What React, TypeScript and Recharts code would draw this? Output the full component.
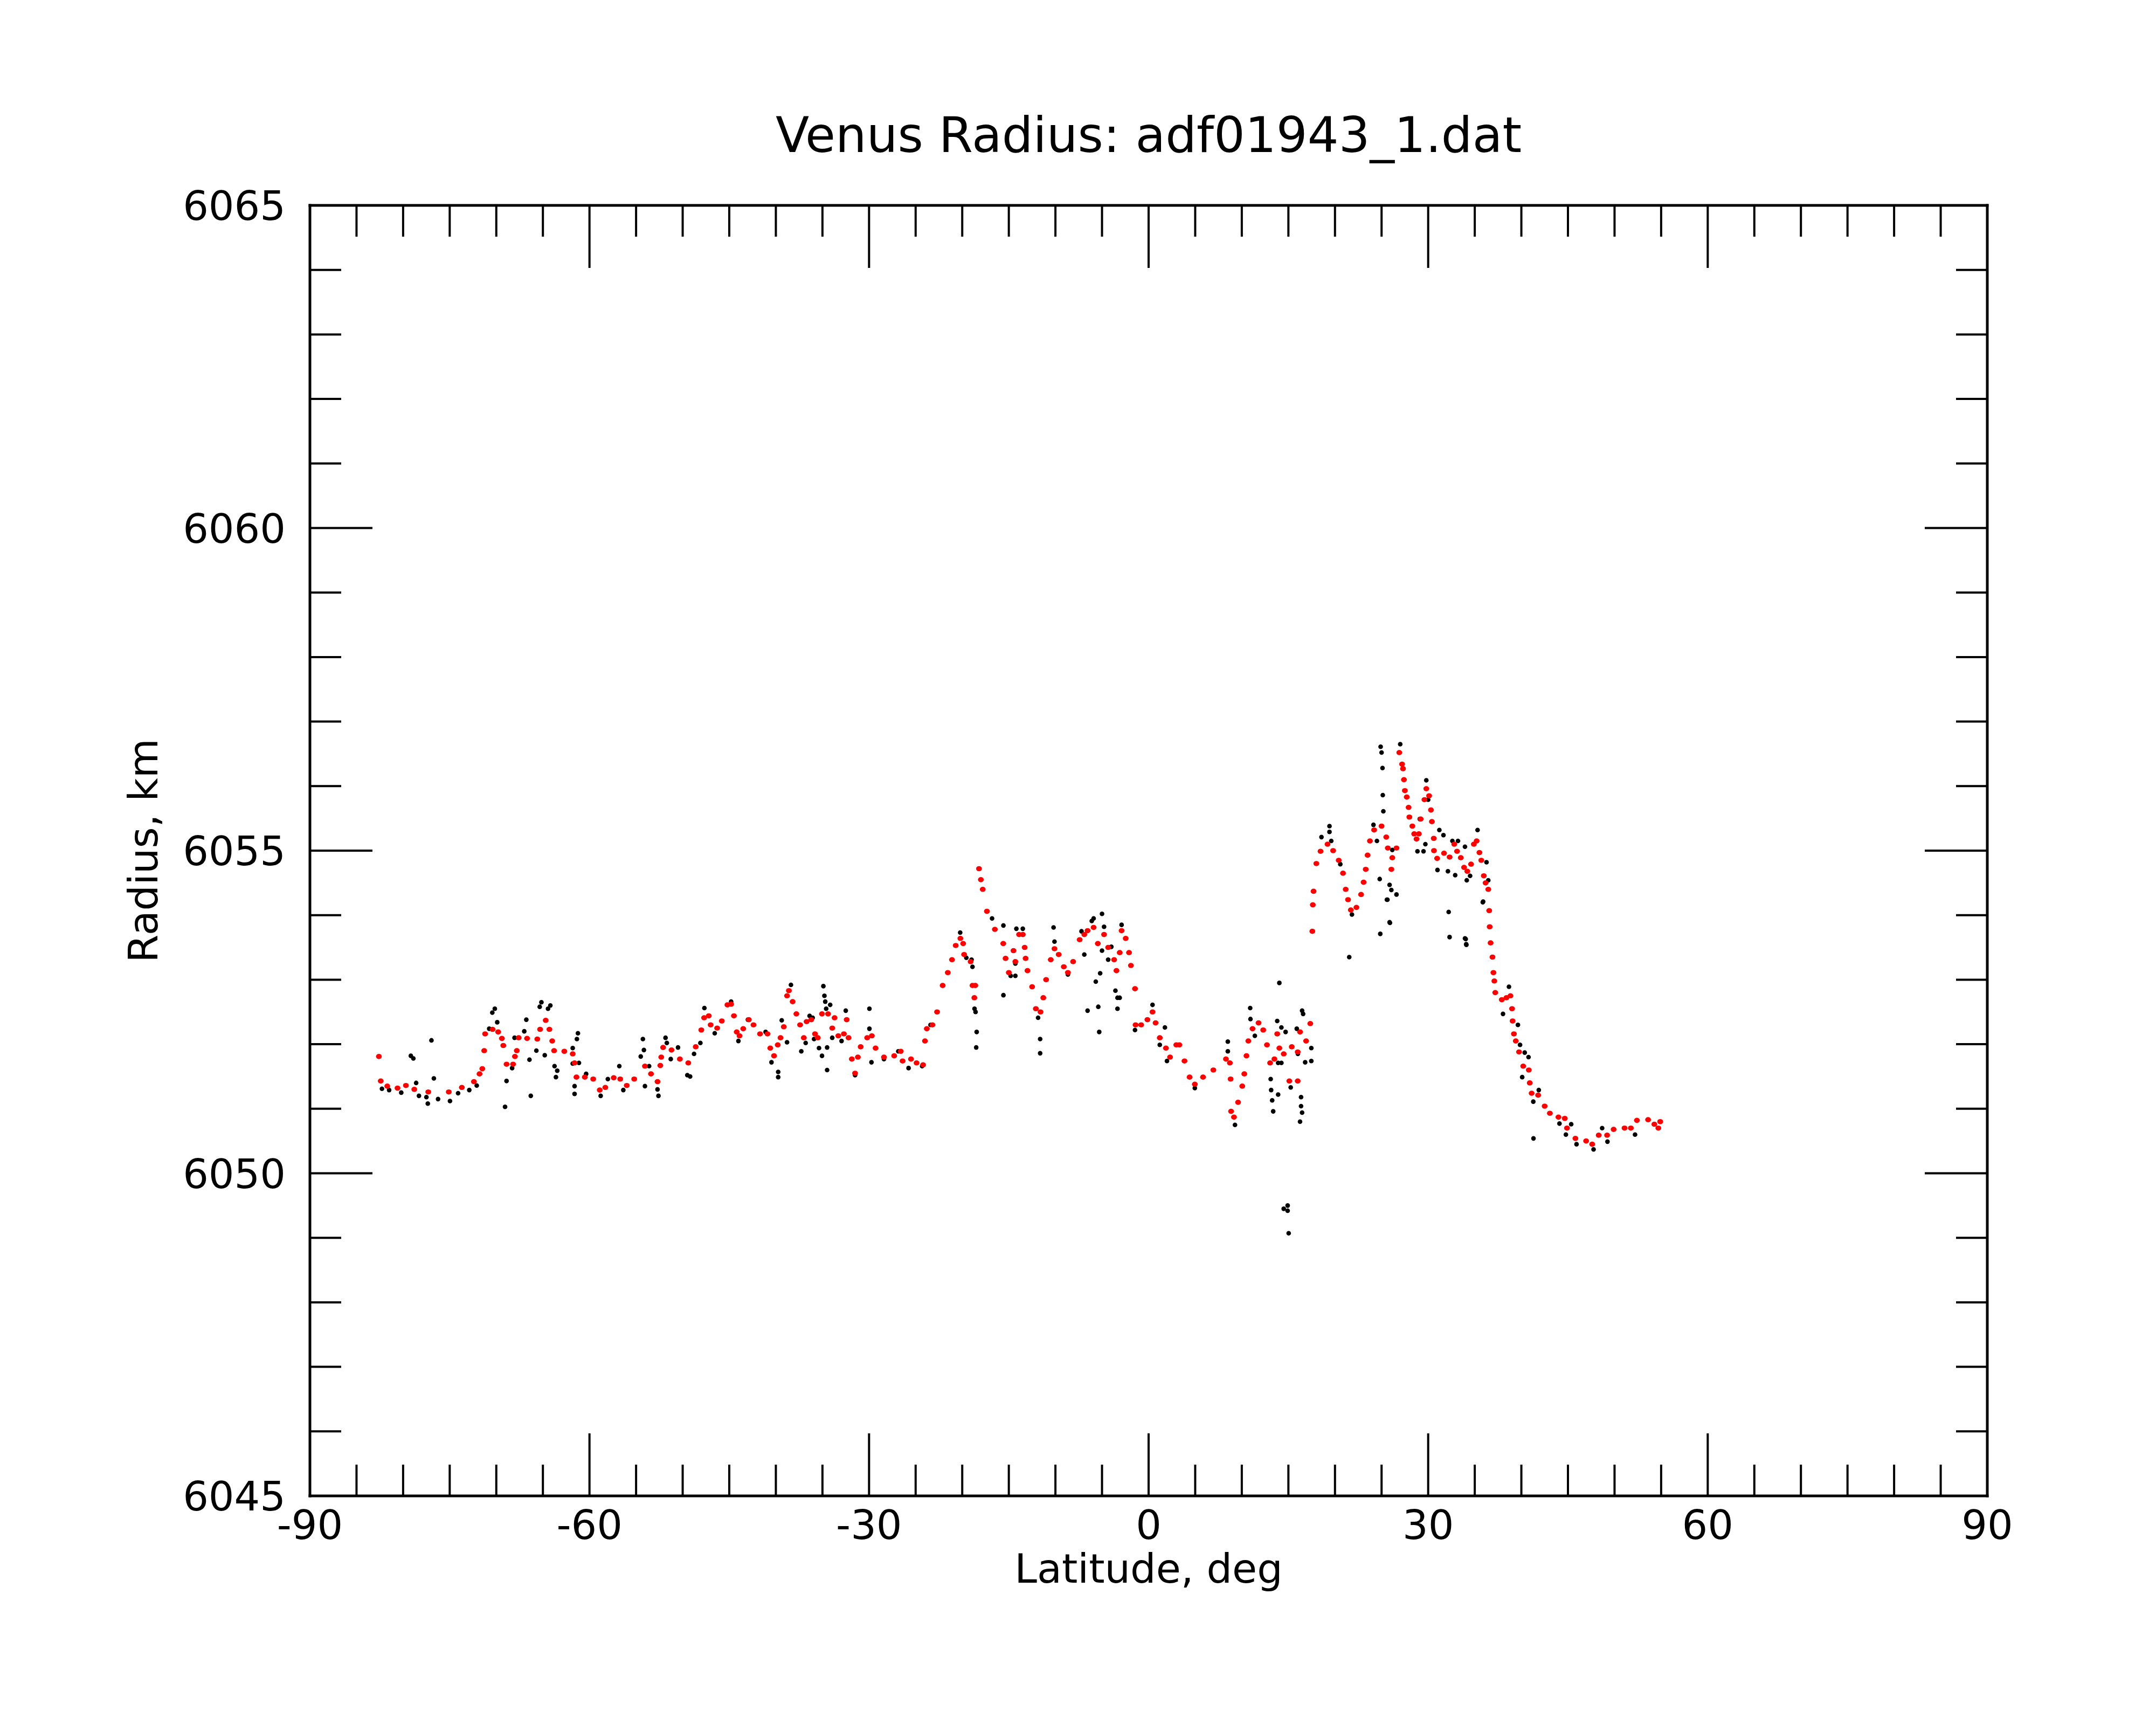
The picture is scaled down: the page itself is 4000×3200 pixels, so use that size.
import { Scatter, ScatterChart, XAxis, YAxis } from "recharts";

const FONT = "DejaVu Sans, Verdana, sans-serif";

// smoothed profile (red)
const fitLat = [
  -82.6, -82.4, -81.7, -80.6, -79.7, -78.8, -77.3, -75.1, -73.7, -72.4, -71.8, -71.5, -71.3, -71.2,
  -70.4, -69.8, -69.4, -69.25, -68.9, -68.2, -68.0, -67.8, -67.6, -66.7, -65.6, -65.3, -64.7, -64.3,
  -64.0, -63.8, -62.7, -61.8, -61.6, -61.4, -60.5, -59.6, -58.9, -58.3, -57.4, -56.7, -56.0, -55.2,
  -54.05, -53.4, -52.7, -52.4, -52.3, -52.1, -51.2, -50.3, -49.4, -48.6, -48.0, -47.7, -47.2, -47.0,
  -46.3, -45.8, -45.2, -44.8, -44.5, -44.2, -43.9, -43.5, -42.9, -42.4, -41.7, -40.9, -40.6, -40.2,
  -39.8, -39.5, -39.15, -38.8, -38.6, -38.2, -37.8, -37.4, -37.0, -36.7, -36.2, -35.8, -35.5, -35.05,
  -34.4, -33.95, -33.7, -33.3, -32.7, -32.4, -32.2, -31.85, -31.5, -31.2, -30.9, -30.2, -29.7, -29.3,
  -28.4, -27.3, -26.6, -26.4, -25.5, -24.9, -24.2, -24.0, -23.8, -23.2, -22.7, -22.1, -21.55, -21.1,
  -20.7, -20.2, -19.9, -19.8, -19.1, -18.9, -18.7, -18.6, -18.2, -18.0, -17.8, -17.35, -16.5, -15.6,
  -15.35, -15.0, -14.5, -14.3, -13.9, -13.5, -13.3, -13.2, -13.0, -12.5, -12.1, -11.6, -11.3, -11.0,
  -10.5, -10.1, -9.65, -9.1, -8.66, -8.1, -7.4, -6.9, -6.55, -5.9, -5.45, -4.78, -4.34, -3.7, -3.45,
  -3.1, -2.9, -2.46, -2.1, -1.9, -1.46, -1.4, -0.8, -0.13, 0.42, 0.75, 1.2, 1.86, 2.3, 2.97, 3.3, 3.85,
  4.4, 4.96, 5.84, 6.95, 8.3, 8.72, 8.8, 8.85, 9.16, 9.6, 10.05, 10.27, 10.5, 10.7, 11.15, 11.8, 12.3,
  12.7, 13.04, 13.5, 13.8, 14.03, 14.5, 15.1, 15.36, 16.0, 16.0, 16.25, 16.9, 17.35, 17.57, 17.62, 17.7,
  18.0, 18.45, 19.2, 19.8, 20.4, 20.86, 21.15, 21.4, 21.7, 22.3, 22.8, 23.07, 23.3, 23.5, 23.75, 24.2,
  25.0, 25.5, 25.67, 26.05, 26.15, 26.6, 26.9, 27.2, 27.3, 27.4, 27.5, 27.7, 27.9, 27.98, 28.3, 28.5,
  28.75, 29.0, 29.2, 29.6, 29.8, 30.1, 30.3, 30.4, 30.6, 30.62, 30.96, 31.7, 32.3, 32.8, 33.1, 33.5,
  33.85, 34.2, 34.6, 34.9, 35.2, 35.5, 35.7, 35.97, 36.16, 36.45, 36.55, 36.6, 36.7, 36.9, 37.0, 37.1,
  37.2, 37.9, 38.4, 38.83, 39.0, 39.06, 39.2, 39.4, 39.75, 40.2, 40.8, 40.9, 41.1, 41.8, 42.5, 43.06,
  43.98, 44.66, 44.9, 45.8, 46.95, 47.6, 48.3, 49.2, 49.9, 51.07, 51.75, 52.4, 53.6, 54.27, 54.7, 54.9,
];
const fitRadius = [
  6051.81, 6051.43, 6051.35, 6051.32, 6051.36, 6051.3, 6051.26, 6051.26, 6051.33, 6051.42, 6051.54,
  6051.62, 6051.9, 6052.16, 6052.23, 6052.19, 6052.09, 6051.98, 6051.69, 6051.69, 6051.81, 6051.9,
  6052.1, 6052.09, 6052.08, 6052.23, 6052.37, 6052.23, 6052.05, 6051.9, 6051.89, 6051.85, 6051.71,
  6051.49, 6051.49, 6051.46, 6051.29, 6051.33, 6051.48, 6051.46, 6051.36, 6051.46, 6051.66, 6051.54,
  6051.42, 6051.67, 6051.8, 6051.95, 6051.91, 6051.77, 6051.71, 6051.96, 6052.22, 6052.41, 6052.44,
  6052.3, 6052.25, 6052.36, 6052.61, 6052.62, 6052.44, 6052.19, 6052.13, 6052.24, 6052.38, 6052.3,
  6052.16, 6052.16, 6051.94, 6051.82, 6051.99, 6052.1, 6052.27, 6052.75, 6052.83, 6052.66, 6052.47,
  6052.3, 6052.1, 6052.35, 6052.38, 6052.16, 6052.1, 6052.47, 6052.47, 6052.25, 6052.41, 6052.13,
  6052.16, 6052.38, 6052.1, 6051.77, 6051.55, 6051.8, 6051.96, 6052.1, 6052.13, 6051.94, 6051.8,
  6051.82, 6051.89, 6051.74, 6051.77, 6051.71, 6051.68, 6052.05, 6052.24, 6052.3, 6052.5, 6052.91,
  6053.11, 6053.31, 6053.53, 6053.64, 6053.56, 6053.39, 6053.28, 6052.91, 6052.72, 6052.91, 6054.72,
  6054.55, 6054.4, 6054.06, 6053.78, 6053.56, 6053.33, 6053.11, 6053.45, 6053.28, 6053.7, 6053.7,
  6053.5, 6053.33, 6053.14, 6052.89, 6052.55, 6052.5, 6052.72, 6053.0, 6053.31, 6053.48, 6053.39,
  6053.2, 6053.11, 6053.28, 6053.62, 6053.7, 6053.76, 6053.81, 6053.56, 6053.7, 6053.5, 6053.31,
  6053.14, 6053.42, 6053.76, 6053.64, 6053.42, 6053.22, 6052.86, 6052.3, 6052.3, 6052.38, 6052.5,
  6052.33, 6052.1, 6051.94, 6051.8, 6051.99, 6051.99, 6051.74, 6051.49, 6051.38, 6051.49, 6051.6,
  6051.77, 6051.71, 6051.46, 6050.96, 6050.87, 6051.1, 6051.35, 6051.54, 6051.82, 6052.05, 6052.24,
  6052.33, 6052.22, 6051.99, 6051.71, 6051.77, 6052.16, 6051.94, 6051.85, 6051.43, 6051.96, 6051.88,
  6051.43, 6052.19, 6052.05, 6052.32, 6053.75, 6054.16, 6054.37, 6054.8, 6054.99, 6055.1, 6055.0,
  6054.85, 6054.65, 6054.4, 6054.24, 6054.08, 6054.12, 6054.32, 6054.51, 6054.71, 6054.93, 6055.15,
  6055.32, 6055.38, 6055.21, 6055.04, 6054.71, 6054.89, 6055.04, 6056.52, 6056.34, 6056.27, 6056.1,
  6055.93, 6055.83, 6055.67, 6055.52, 6055.38, 6055.26, 6055.18, 6055.26, 6055.49, 6055.79, 6055.96,
  6055.85, 6055.63, 6055.45, 6055.19, 6055.0, 6054.88, 6054.96, 6054.9, 6055.1, 6054.99, 6054.89,
  6054.74, 6054.68, 6054.79, 6055.1, 6055.15, 6054.97, 6054.85, 6054.61, 6054.5, 6054.4, 6054.07,
  6053.82, 6053.57, 6053.35, 6053.11, 6052.98, 6052.8, 6052.69, 6052.72, 6052.75, 6052.55, 6052.36,
  6052.16, 6052.05, 6051.88, 6051.66, 6051.6, 6051.4, 6051.24, 6051.21, 6051.04, 6050.93, 6050.87,
  6050.85, 6050.7, 6050.54, 6050.5, 6050.45, 6050.59, 6050.59, 6050.68, 6050.7, 6050.7, 6050.82,
  6050.83, 6050.76, 6050.7, 6050.8,
];

// raw measurements (black)
const rawLat = [
  -82.27, -81.5, -80.2, -79.17, -78.9, -78.6, -78.3, -77.5, -77.35, -76.96, -76.7, -76.25, -74.97,
  -74.1, -72.9, -72.1, -70.76, -70.43, -70.16, -69.9, -69.06, -68.9, -68.3, -68.04, -67.77, -67.0,
  -66.78, -66.44, -66.3, -65.7, -65.34, -65.16, -64.45, -64.2, -64.8, -63.75, -63.6, -63.46, -61.8,
  -61.8, -61.6, -61.6, -61.35, -61.24, -61.13, -60.36, -58.8, -58.03, -56.8, -56.37, -54.5, -54.27,
  -54.16, -54.05, -53.6, -52.7, -52.6, -51.84, -51.7, -51.28, -50.5, -49.5, -49.2, -48.78, -48.1,
  -47.67, -46.56, -44.8, -44.02, -43.0, -41.1, -40.47, -39.75, -39.75, -39.37, -38.8, -38.38, -37.27,
  -36.8, -36.38, -36.05, -35.9, -35.37, -35.05, -34.9, -34.79, -34.7, -34.6, -34.5, -34.5, -34.17,
  -33.95, -32.95, -32.5, -31.5, -29.96, -29.96, -29.74, -28.4, -26.86, -25.76, -24.3, -23.4, -20.22,
  -19.56, -19.0, -18.9, -18.68, -18.57, -18.45, -18.5, -16.8, -15.58, -15.58, -14.8, -14.19, -13.5,
  -14.3, -14.3, -11.86, -11.64, -11.64, -10.2, -10.1, -8.66, -7.2, -6.9, -6.55, -6.1, -5.9, -5.67,
  -5.3, -5.4, -5.2, -5.0, -4.78, -5.0, -4.34, -4.0, -3.56, -3.34, -3.34, -3.1, -2.9, -1.46, 0.42, 1.75,
  1.2, 1.97, 4.96, 8.5, 8.5, 9.27, 10.9, 10.93, 11.4, 13.1, 13.15, 13.26, 13.37, 14.03, 13.8, 14.25,
  14.7, 13.9, 14.25, 13.9, 14.5, 14.92, 14.92, 15.03, 15.25, 15.9, 16.47, 16.58, 16.02, 16.36, 16.36,
  16.47, 16.25, 16.8, 17.46, 17.46, 18.55, 19.41, 19.41, 19.6, 20.57, 21.82, 21.53, 24.13, 24.5, 24.8,
  24.86, 24.9, 25.0, 25.1, 25.13, 25.19, 25.57, 25.86, 25.86, 26.05, 26.15, 26.6, 27.0, 28.85, 29.1,
  29.8, 30.0, 29.7, 29.5, 31.0, 31.2, 31.64, 32.2, 32.3, 32.12, 32.6, 32.9, 33.2, 33.95, 33.95, 34.08,
  34.14, 34.5, 35.3, 35.9, 36.26, 36.45, 25.63, 25.9, 34.03, 34.1, 35.86, 38.03, 38.67, 39.63, 39.86,
  40.36, 40.77, 40.09, 41.28, 41.87, 41.3, 44.09, 45.35, 44.78, 45.92, 47.75, 48.67, 49.24, 52.2,
];
const rawRadius = [
  6051.31, 6051.29, 6051.25, 6051.82, 6051.78, 6051.4, 6051.2, 6051.18, 6051.08, 6052.06, 6051.47,
  6051.15, 6051.12, 6051.24, 6051.29, 6051.36, 6052.24, 6052.49, 6052.55, 6052.34, 6051.03, 6051.43,
  6051.63, 6052.1, 6051.9, 6052.2, 6052.38, 6051.76, 6051.2, 6051.9, 6052.58, 6052.65, 6052.55,
  6052.6, 6051.83, 6051.66, 6051.49, 6051.59, 6051.94, 6051.7, 6051.35, 6051.23, 6052.08, 6052.17,
  6051.71, 6051.54, 6051.2, 6051.46, 6051.66, 6051.29, 6051.81, 6052.08, 6051.91, 6051.35, 6051.66,
  6051.3, 6051.2, 6052.1, 6052.02, 6051.77, 6051.95, 6051.52, 6051.5, 6051.85, 6052.02, 6052.56,
  6052.17, 6052.66, 6052.05, 6052.38, 6052.19, 6051.72, 6051.57, 6051.49, 6052.37, 6052.03, 6052.92,
  6051.89, 6052.02, 6052.44, 6052.41, 6052.08, 6051.94, 6051.82, 6052.9, 6052.75, 6052.66, 6052.55,
  6051.95, 6051.6, 6052.61, 6052.1, 6052.05, 6052.52, 6051.52, 6052.55, 6052.24, 6051.72, 6051.77,
  6051.89, 6051.63, 6051.66, 6052.3, 6053.73, 6053.34, 6053.31, 6053.2, 6052.55, 6052.5, 6052.19,
  6051.95, 6053.95, 6053.84, 6052.76, 6053.06, 6053.79, 6053.79, 6053.25, 6053.06, 6052.41, 6052.08,
  6051.86, 6053.81, 6053.59, 6053.08, 6053.75, 6053.39, 6052.52, 6053.91, 6053.95, 6052.97, 6052.19,
  6052.58, 6053.1, 6054.02, 6053.82, 6053.45, 6053.31, 6053.51, 6052.83, 6052.72, 6052.55, 6052.72,
  6053.85, 6052.22, 6052.61, 6052.26, 6051.99, 6051.74, 6051.32, 6052.04, 6051.89, 6050.75, 6052.56,
  6052.39, 6052.13, 6051.46, 6051.29, 6051.13, 6050.96, 6052.95, 6052.36, 6052.26, 6052.19, 6051.71,
  6051.71, 6051.22, 6049.45, 6049.5, 6049.42, 6049.07, 6051.33, 6052.24, 6052.52, 6052.47, 6051.85,
  6051.18, 6051.04, 6050.94, 6050.8, 6051.72, 6051.74, 6051.94, 6055.21, 6055.38, 6055.29, 6055.15,
  6054.79, 6054.01, 6053.35, 6055.4, 6055.15, 6054.56, 6053.71, 6056.61, 6056.52, 6056.28, 6055.86,
  6055.61, 6054.24, 6054.47, 6053.89, 6054.39, 6055.01, 6054.32, 6056.65, 6054.99, 6055.49, 6056.09,
  6055.79, 6055.1, 6054.99, 6054.7, 6055.32, 6055.24, 6054.05, 6053.66, 6054.68, 6055.15, 6054.62,
  6055.15, 6055.06, 6053.64, 6053.55, 6054.54, 6054.61, 6055.32, 6054.21, 6054.82, 6054.54, 6054.24,
  6053.88, 6053.63, 6053.54, 6054.2, 6052.47, 6052.89, 6052.3, 6051.99, 6051.87, 6051.8, 6051.49,
  6051.11, 6051.29, 6050.54, 6050.77, 6050.76, 6050.6, 6050.45, 6050.37, 6050.7, 6050.49, 6050.6,
];

const latTicks = [
  -90, -85, -80, -75, -70, -65, -60, -55, -50, -45, -40, -35, -30, -25, -20, -15, -10, -5, 0, 5, 10,
  15, 20, 25, 30, 35, 40, 45, 50, 55, 60, 65, 70, 75, 80, 85, 90,
];
const latLabels = [-90, -60, -30, 0, 30, 60, 90];
const radiusTicks = [
  6045, 6046, 6047, 6048, 6049, 6050, 6051, 6052, 6053, 6054, 6055, 6056, 6057, 6058, 6059, 6060,
  6061, 6062, 6063, 6064, 6065,
];
const radiusLabels = [6045, 6050, 6055, 6060, 6065];

const fitData = fitLat.map((lat, i) => ({ lat, radius: fitRadius[i] }));
const rawData = rawLat.map((lat, i) => ({ lat, radius: rawRadius[i] }));

const MAJOR = 116;
const MINOR = 58;
const axisLine = { stroke: "#000", strokeWidth: 5, strokeLinecap: "square" as const };

function BottomTick({ x, y, payload }: any) {
  const major = latLabels.includes(payload.value);
  return (
    <g>
      <line x1={x} x2={x} y1={y} y2={y - (major ? MAJOR : MINOR)} stroke="#000" strokeWidth={4} />
      {major && (
        <text x={x} y={y + 80} textAnchor="middle" fontSize={75} fontFamily={FONT} fill="#000">
          {String(payload.value)}
        </text>
      )}
    </g>
  );
}

function TopTick({ x, y, payload }: any) {
  const major = latLabels.includes(payload.value);
  return <line x1={x} x2={x} y1={y} y2={y + (major ? MAJOR : MINOR)} stroke="#000" strokeWidth={4} />;
}

function LeftTick({ x, y, payload }: any) {
  const major = radiusLabels.includes(payload.value);
  return (
    <g>
      <line x1={x} x2={x + (major ? MAJOR : MINOR)} y1={y} y2={y} stroke="#000" strokeWidth={4} />
      {major && (
        <text x={x - 45} y={y + 27} textAnchor="end" fontSize={75} fontFamily={FONT} fill="#000">
          {String(payload.value)}
        </text>
      )}
    </g>
  );
}

function RightTick({ x, y, payload }: any) {
  const major = radiusLabels.includes(payload.value);
  return <line x1={x} x2={x - (major ? MAJOR : MINOR)} y1={y} y2={y} stroke="#000" strokeWidth={4} />;
}

export default function App() {
  return (
    <div style={{ position: "absolute", left: 0, top: 0, width: 4000, height: 3200, background: "#fff" }}>
      <ScatterChart width={4000} height={3200} margin={{ top: 281, right: 213, bottom: 325, left: 475 }}>
        <XAxis
          xAxisId="bottom"
          type="number"
          dataKey="lat"
          domain={[-90, 90]}
          allowDataOverflow
          ticks={latTicks}
          interval={0}
          height={100}
          tickSize={0}
          tickMargin={0}
          tickLine={false}
          axisLine={axisLine}
          tick={BottomTick}
        />
        <XAxis
          xAxisId="top"
          orientation="top"
          type="number"
          dataKey="lat"
          domain={[-90, 90]}
          allowDataOverflow
          ticks={latTicks}
          interval={0}
          height={100}
          tickSize={0}
          tickMargin={0}
          tickLine={false}
          axisLine={axisLine}
          tick={TopTick}
        />
        <YAxis
          yAxisId="left"
          type="number"
          dataKey="radius"
          domain={[6045, 6065]}
          allowDataOverflow
          ticks={radiusTicks}
          interval={0}
          width={100}
          tickSize={0}
          tickMargin={0}
          tickLine={false}
          axisLine={axisLine}
          tick={LeftTick}
        />
        <YAxis
          yAxisId="right"
          orientation="right"
          type="number"
          dataKey="radius"
          domain={[6045, 6065]}
          allowDataOverflow
          ticks={radiusTicks}
          interval={0}
          width={100}
          tickSize={0}
          tickMargin={0}
          tickLine={false}
          axisLine={axisLine}
          tick={RightTick}
        />
        <Scatter
          xAxisId="bottom"
          yAxisId="left"
          data={rawData}
          isAnimationActive={false}
          shape={(p: any) => <circle cx={p.cx} cy={p.cy} r={4.3} fill="#000" />}
        />
        <Scatter
          xAxisId="bottom"
          yAxisId="left"
          data={fitData}
          isAnimationActive={false}
          shape={(p: any) => <ellipse cx={p.cx} cy={p.cy} rx={5.4} ry={4.8} fill="#ff0000" />}
        />
      </ScatterChart>
      <svg
        width={4000}
        height={3200}
        style={{ position: "absolute", left: 0, top: 0, pointerEvents: "none" }}
      >
        <text x={2131} y={282} textAnchor="middle" fontSize={91} fontFamily={FONT} fill="#000">
          Venus Radius: adf01943_1.dat
        </text>
        <text x={2131} y={2936} textAnchor="middle" fontSize={75} fontFamily={FONT} fill="#000">
          Latitude, deg
        </text>
        <text
          x={292}
          y={1578}
          transform="rotate(-90 292 1578)"
          textAnchor="middle"
          fontSize={75}
          fontFamily={FONT}
          fill="#000"
        >
          Radius, km
        </text>
      </svg>
    </div>
  );
}
